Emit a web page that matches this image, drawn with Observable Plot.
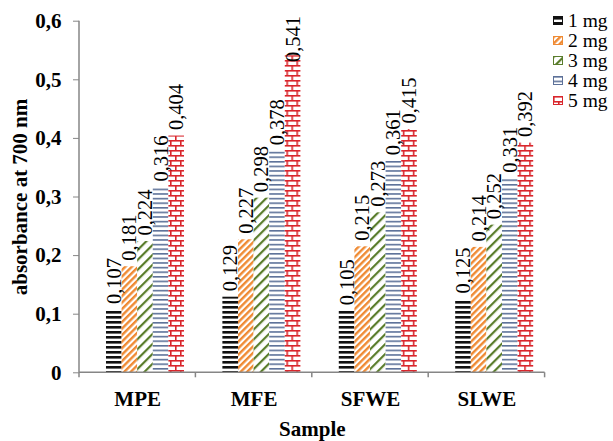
<!DOCTYPE html>
<html><head><meta charset="utf-8">
<script src="https://cdn.jsdelivr.net/npm/d3@7"></script>
<script src="https://cdn.jsdelivr.net/npm/@observablehq/plot@0.6"></script>
<style>
html,body{margin:0;padding:0;background:#fff;}
#wrap{position:relative;width:613px;height:441px;font-family:"Liberation Serif","Times New Roman",serif;}
#chart svg{display:block}
#legend{position:absolute;left:553px;top:10.7px;font-size:19.5px;line-height:20px;color:#000;font-family:"Liberation Serif","Times New Roman",serif;}
.row{display:flex;align-items:center;height:20px;white-space:nowrap}
.row svg{margin-right:5px;display:block}
g[aria-label="y-axis tick label"] text, g[aria-label="fx-axis tick label"] text,
g[aria-label="y-axis label"] text, g[aria-label="fx-axis label"] text{font-weight:bold;fill:#000}
</style></head><body>
<svg width="0" height="0" style="position:absolute"><defs>
<pattern id="p1" patternUnits="userSpaceOnUse" width="8" height="5"><rect width="8" height="5" fill="#fff"/><rect y="1" width="8" height="2.6" fill="#111"/></pattern>
<pattern id="p2" patternUnits="userSpaceOnUse" width="4.6" height="4.6" patternTransform="rotate(45)"><rect width="4.6" height="4.6" fill="#fff"/><rect width="2.4" height="4.6" fill="#ef8a33"/></pattern>
<pattern id="p3" patternUnits="userSpaceOnUse" width="7" height="7" patternTransform="rotate(45)"><rect width="7" height="7" fill="#fff"/><rect width="2.2" height="7" fill="#5a7d2c"/></pattern>
<pattern id="p4" patternUnits="userSpaceOnUse" width="8" height="4.6"><rect width="8" height="4.6" fill="#fff"/><rect y="0" width="8" height="1.6" fill="#5d7199"/></pattern>
<pattern id="p5" patternUnits="userSpaceOnUse" width="10" height="10"><rect width="10" height="10" fill="#fff"/><rect y="0" width="10" height="1.6" fill="#d9262c"/><rect y="5" width="10" height="1.6" fill="#d9262c"/><rect x="0" y="0" width="1.6" height="5" fill="#d9262c"/><rect x="5" y="5" width="1.6" height="5" fill="#d9262c"/></pattern>
</defs></svg>
<div id="wrap"><div id="chart"></div><div id="legend"></div></div>
<script>
const samples = ["MPE", "MFE", "SFWE", "SLWE"];
const doses = ["1 mg", "2 mg", "3 mg", "4 mg", "5 mg"];
const mg1 = [0.107, 0.129, 0.105, 0.125];
const mg2 = [0.181, 0.227, 0.215, 0.214];
const mg3 = [0.224, 0.298, 0.273, 0.252];
const mg4 = [0.316, 0.378, 0.361, 0.331];
const mg5 = [0.404, 0.541, 0.415, 0.392];
const yTicks = [0, 0.1, 0.2, 0.3, 0.4, 0.5, 0.6];
const fills = ["url(#p1)", "url(#p2)", "url(#p3)", "url(#p4)", "url(#p5)"];
const edge = ["#111", "#ef8a33", "#5a7d2c", "#5d7199", "#d9262c"];

const series = [mg1, mg2, mg3, mg4, mg5];
const rows = doses.flatMap((d, i) => samples.map((s, j) => ({sample: s, dose: d, value: series[i][j]})));
const comma = v => v === 0 ? "0" : String(v).replace(".", ",");
const fmt3 = v => d3.format(".3f")(v).replace(".", ",");

const plot = Plot.plot({
  width: 613, height: 441,
  marginLeft: 79, marginRight: 68.4, marginTop: 20.7, marginBottom: 68.7,
  style: {fontFamily: '"Liberation Serif","Times New Roman",serif', background: "transparent", color: "#000"},
  fx: {domain: samples, padding: 0, round: false},
  x: {domain: doses, paddingInner: 0, paddingOuter: 1.23, align: 0.703, round: false, axis: null},
  y: {domain: [0, 0.6]},
  color: {domain: doses, range: fills},
  marks: [
    Plot.barY(rows, {fx: "sample", x: "dose", y: "value", fill: "dose"}),
    Plot.text(rows, {fx: "sample", x: "dose", y: d => Math.min(d.value, 0.52), text: d => fmt3(d.value),
      rotate: -90, textAnchor: "start", dy: -6, fontSize: 20.5, fill: "#000",
      fontFamily: '"Liberation Serif","Times New Roman",serif'}),
    Plot.axisY({ticks: yTicks, tickFormat: comma, tickSize: 6, tickPadding: 12, fontSize: 21, fontWeight: "bold",
      stroke: "#868686", label: "absorbance at 700 nm", labelAnchor: "center", labelOffset: 67, labelArrow: "none"}),
    Plot.axisFx({anchor: "bottom", tickSize: 0, tickPadding: 18, fontSize: 21, fontWeight: "bold",
      label: "Sample", labelAnchor: "center", labelOffset: 63, labelArrow: "none"})
  ]
});
document.getElementById("chart").appendChild(plot);

// axis lines and boundary ticks from the plot's own scales
const fxS = plot.scale("fx"), yS = plot.scale("y");
const x0 = fxS.apply(samples[0]);
const bw = fxS.bandwidth;
const x1 = fxS.apply(samples[samples.length - 1]) + bw;
const y0 = yS.apply(0), yTop = yS.apply(0.6);
const g = d3.select(plot).append("g").attr("stroke", "#868686").attr("stroke-width", 1.5);
g.append("line").attr("x1", x0).attr("x2", x0).attr("y1", yTop).attr("y2", y0);
g.append("line").attr("x1", x0).attr("x2", x1).attr("y1", y0).attr("y2", y0);
samples.forEach(s => {
  const xs = fxS.apply(s);
  g.append("line").attr("x1", xs).attr("x2", xs).attr("y1", y0).attr("y2", y0 + 5);
});
g.append("line").attr("x1", x1).attr("x2", x1).attr("y1", y0).attr("y2", y0 + 5);

// legend
const leg = d3.select("#legend");
doses.forEach((d, i) => {
  const r = leg.append("div").attr("class", "row");
  const sw = r.append("svg").attr("width", 10).attr("height", 9);
  sw.append("rect").attr("x", 0.5).attr("y", 0.5).attr("width", 9).attr("height", 8)
    .attr("fill", fills[i]).attr("stroke", edge[i]).attr("stroke-width", 1);
  r.append("span").text(d);
});
</script>
</body></html>
